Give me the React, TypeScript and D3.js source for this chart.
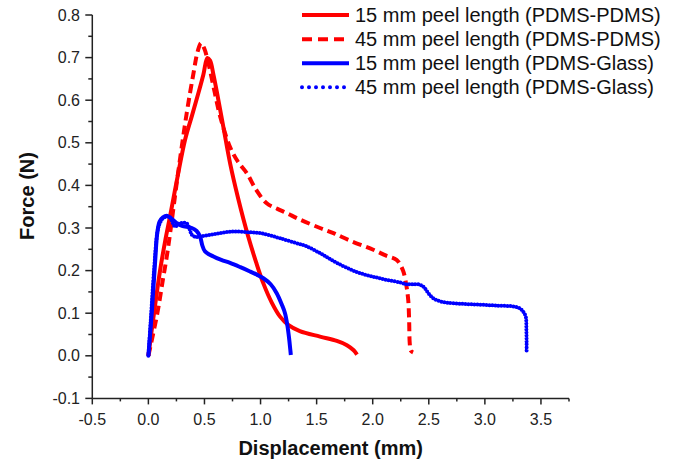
import React from "react";
import * as d3 from "d3";

type P = [number, number];

const seriesNames = [
  "15 mm peel length (PDMS-PDMS)",
  "45 mm peel length (PDMS-PDMS)",
  "15 mm peel length (PDMS-Glass)",
  "45 mm peel length (PDMS-Glass)",
];

const red15: P[] = [
  [0, 0], [0.05, 0.1], [0.104, 0.2], [0.15, 0.27], [0.193, 0.327], [0.26, 0.42], [0.327, 0.507],
  [0.39, 0.565], [0.446, 0.617], [0.49, 0.66], [0.526, 0.699], [0.55, 0.693], [0.58, 0.66],
  [0.61, 0.62], [0.67, 0.535], [0.73, 0.45], [0.8, 0.37], [0.89, 0.28], [0.96, 0.22],
  [1.025, 0.17], [1.1, 0.125], [1.174, 0.092], [1.25, 0.072], [1.35, 0.058], [1.53, 0.045],
  [1.68, 0.035], [1.77, 0.025], [1.83, 0.013], [1.86, 0.003],
];

const red45: P[] = [
  [0, 0], [0.08, 0.1], [0.13, 0.18], [0.164, 0.233], [0.2, 0.3], [0.26, 0.42], [0.342, 0.57],
  [0.4, 0.66], [0.44, 0.715], [0.47, 0.734], [0.5, 0.72], [0.535, 0.687], [0.59, 0.62],
  [0.64, 0.562], [0.728, 0.49], [0.8, 0.455], [0.877, 0.429], [0.96, 0.39], [1.055, 0.358],
  [1.15, 0.345], [1.233, 0.335], [1.35, 0.32], [1.53, 0.3], [1.65, 0.288], [1.8, 0.27],
  [2.005, 0.249], [2.12, 0.235], [2.214, 0.225], [2.27, 0.2], [2.3, 0.165], [2.317, 0.13],
  [2.325, 0.08], [2.33, 0.03], [2.34, 0.012], [2.36, 0.008],
];

const blue15: P[] = [
  [0, 0], [0.03, 0.1], [0.06, 0.22], [0.08, 0.29], [0.1, 0.315], [0.13, 0.325], [0.164, 0.329],
  [0.19, 0.325], [0.223, 0.318], [0.26, 0.31], [0.3, 0.305], [0.387, 0.3], [0.43, 0.293],
  [0.461, 0.28], [0.48, 0.26], [0.505, 0.245], [0.58, 0.233], [0.65, 0.225], [0.728, 0.218],
  [0.82, 0.208], [0.906, 0.198], [0.97, 0.19], [1.025, 0.182], [1.09, 0.168], [1.144, 0.147],
  [1.19, 0.12], [1.218, 0.1], [1.24, 0.07], [1.255, 0.04], [1.265, 0.015], [1.27, 0.002],
];

const blue45: P[] = [
  [0, 0], [0.02, 0.08], [0.05, 0.2], [0.08, 0.29], [0.1, 0.31], [0.13, 0.323], [0.165, 0.327],
  [0.193, 0.325], [0.22, 0.31], [0.24, 0.303], [0.27, 0.31], [0.3, 0.312], [0.342, 0.311],
  [0.37, 0.295], [0.387, 0.284], [0.42, 0.279], [0.461, 0.28], [0.55, 0.284], [0.64, 0.288],
  [0.72, 0.291], [0.788, 0.292], [0.9, 0.29], [0.996, 0.288], [1.09, 0.282], [1.174, 0.276],
  [1.3, 0.266], [1.41, 0.257], [1.53, 0.241], [1.6, 0.23], [1.68, 0.218], [1.8, 0.203],
  [1.887, 0.194], [2.0, 0.186], [2.125, 0.178], [2.25, 0.172], [2.3, 0.168], [2.35, 0.168],
  [2.42, 0.167], [2.46, 0.16], [2.496, 0.147], [2.54, 0.135], [2.6, 0.128], [2.66, 0.125],
  [2.8, 0.122], [2.956, 0.12], [3.1, 0.118], [3.253, 0.116], [3.3, 0.113], [3.328, 0.108],
  [3.355, 0.098], [3.366, 0.09], [3.37, 0.06], [3.372, 0.03], [3.372, 0.006],
];

const xTicks = [-0.5, 0, 0.5, 1, 1.5, 2, 2.5, 3, 3.5];
const yTicks = [-0.1, 0, 0.1, 0.2, 0.3, 0.4, 0.5, 0.6, 0.7, 0.8];

const W = 675;
const H = 464;
const FONT = "'Liberation Sans', Arial, sans-serif";

export default function App() {
  const x = d3.scaleLinear().domain([-0.5, 3.75]).range([92.3, 569]);
  const y = d3.scaleLinear().domain([-0.1, 0.8]).range([398.4, 15]);
  const line = d3
    .line<P>()
    .x((d) => x(d[0]))
    .y((d) => y(d[1]))
    .curve(d3.curveCatmullRom.alpha(0.5));

  const series = [
    { data: red15, color: "#ff0000", dash: undefined as string | undefined, cap: "butt", legendDash: undefined as string | undefined },
    { data: red45, color: "#ff0000", dash: "9 5", cap: "butt", legendDash: "10 6" },
    { data: blue15, color: "#0000ff", dash: undefined, cap: "butt", legendDash: undefined },
    { data: blue45, color: "#0000ff", dash: "0 3", cap: "round", legendDash: "0 7" },
  ];

  const xMinor = d3.range(-0.25, 3.76, 0.5);
  const yMinor = d3.range(-0.05, 0.8, 0.1);
  const axisColor = "#222";
  const x0 = x(-0.5);
  const yb = y(-0.1);

  const legendX1 = 302;
  const legendX2 = 349;
  const legendRows = [15, 39.3, 63.3, 87.3];

  return (
    <svg
      width={W}
      height={H}
      style={{ position: "fixed", left: 0, top: 0, background: "#fff" }}
      fontFamily={FONT}
    >
      <rect x={0} y={0} width={W} height={H} fill="#fff" />
      {/* series */}
      {series.map((s, i) => (
        <path
          key={i}
          d={line(s.data) || ""}
          fill="none"
          stroke={s.color}
          strokeWidth={4}
          strokeDasharray={s.dash}
          strokeLinecap={s.cap as any}
          strokeLinejoin="round"
        />
      ))}
      {/* axes */}
      <line x1={x0} x2={x0} y1={y(0.8)} y2={yb} stroke={axisColor} strokeWidth={1.5} />
      <line x1={x0} x2={x(3.75)} y1={yb} y2={yb} stroke={axisColor} strokeWidth={1.5} />
      {yTicks.map((t) => (
        <g key={"yt" + t}>
          <line x1={x0 - 7} x2={x0} y1={y(t)} y2={y(t)} stroke={axisColor} strokeWidth={1.5} />
          <text x={80} y={y(t)} dy="0.35em" textAnchor="end" fontSize={16} fill="#222">
            {t.toFixed(1)}
          </text>
        </g>
      ))}
      {yMinor.map((t) => (
        <line key={"ym" + t} x1={x0 - 4} x2={x0} y1={y(t)} y2={y(t)} stroke={axisColor} strokeWidth={1.5} />
      ))}
      {xTicks.map((t) => (
        <g key={"xt" + t}>
          <line x1={x(t)} x2={x(t)} y1={yb} y2={yb + 6} stroke={axisColor} strokeWidth={1.5} />
          <text x={x(t)} y={425} textAnchor="middle" fontSize={16} fill="#222">
            {t.toFixed(1)}
          </text>
        </g>
      ))}
      {xMinor.map((t) => (
        <line key={"xm" + t} x1={x(t)} x2={x(t)} y1={yb} y2={yb + 3} stroke={axisColor} strokeWidth={1.5} />
      ))}
      {/* axis titles */}
      <text x={(x(-0.5) + x(3.75)) / 2} y={455} textAnchor="middle" fontSize={20} fontWeight="bold" fill="#111">
        Displacement (mm)
      </text>
      <text
        transform={`translate(34, 196) rotate(-90)`}
        textAnchor="middle"
        fontSize={20}
        fontWeight="bold"
        fill="#111"
      >
        Force (N)
      </text>
      {/* legend */}
      {series.map((s, i) => (
        <g key={"lg" + i}>
          <line
            x1={legendX1}
            x2={legendX2}
            y1={legendRows[i]}
            y2={legendRows[i]}
            stroke={s.color}
            strokeWidth={4}
            strokeDasharray={s.legendDash}
            strokeLinecap={s.cap as any}
          />
          <text x={355} y={legendRows[i]} dy="0.35em" fontSize={20} fill="#111">
            {seriesNames[i]}
          </text>
        </g>
      ))}
    </svg>
  );
}
